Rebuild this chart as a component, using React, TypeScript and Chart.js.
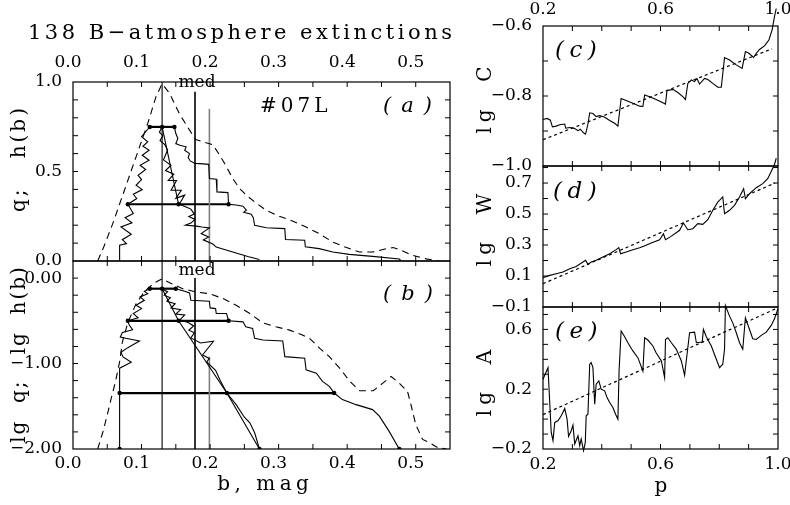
import React, { useEffect, useRef } from 'react';
import { Chart, registerables } from 'chart.js';
Chart.register(...registerables);

type P = [number, number];

const MINUS = '\u2212';
const SERIF = '"DejaVu Serif", "Liberation Serif", serif';

// ---------- reference values (b, mag) ----------
const MODE = 0.13;
const MEDIAN = 0.178;
const MEAN = 0.199;

// ---------- axis tick labels ----------
const bMagLabels = [0, 0.1, 0.2, 0.3, 0.4, 0.5];
const pLabels = [0.2, 0.6, 1.0];
const aYLabels = [0, 0.5, 1.0];
const bYLabels = [-2, -1, 0];
const cYLabels = [-1.0, -0.8, -0.6];
const dYLabels = [-0.1, 0.1, 0.3, 0.5, 0.7];
const eYLabels = [-0.2, 0.2, 0.6];

// ---------- panel (a): q, h(b) ----------
const aDensity: P[] = [[0.036, 0], [0.045, 0.08], [0.058, 0.209], [0.075, 0.395], [0.092, 0.582], [0.109, 0.768], [0.121, 0.917], [0.13, 0.99], [0.141, 0.936], [0.155, 0.824], [0.17, 0.731], [0.179, 0.679], [0.19, 0.665], [0.204, 0.65], [0.214, 0.591], [0.224, 0.526], [0.233, 0.461], [0.243, 0.405], [0.253, 0.367], [0.265, 0.33], [0.282, 0.283], [0.301, 0.25], [0.32, 0.224], [0.34, 0.19], [0.359, 0.153], [0.379, 0.106], [0.399, 0.075], [0.418, 0.05], [0.437, 0.05], [0.457, 0.069], [0.467, 0.075], [0.476, 0.064], [0.495, 0.032], [0.515, 0.012], [0.534, 0]];
const aLeft: P[] = [[0.068, 0], [0.068, 0.088], [0.078, 0.097], [0.072, 0.119], [0.085, 0.149], [0.07, 0.19], [0.086, 0.213], [0.076, 0.242], [0.088, 0.265], [0.08, 0.317], [0.093, 0.349], [0.088, 0.373], [0.101, 0.399], [0.092, 0.423], [0.1, 0.455], [0.095, 0.479], [0.106, 0.511], [0.098, 0.535], [0.111, 0.563], [0.101, 0.591], [0.111, 0.619], [0.102, 0.641], [0.109, 0.666], [0.1, 0.694], [0.106, 0.722], [0.112, 0.749]];
const aRight: P[] = [[0.148, 0.749], [0.15, 0.712], [0.153, 0.684], [0.15, 0.656], [0.156, 0.647], [0.165, 0.638], [0.163, 0.619], [0.17, 0.6], [0.168, 0.578], [0.171, 0.559], [0.178, 0.545], [0.185, 0.544], [0.198, 0.54], [0.199, 0.461], [0.209, 0.457], [0.21, 0.386], [0.226, 0.382], [0.227, 0.317], [0.238, 0.313], [0.248, 0.306], [0.253, 0.284], [0.249, 0.272], [0.26, 0.261], [0.263, 0.242], [0.265, 0.199], [0.282, 0.186], [0.309, 0.181], [0.31, 0.12], [0.338, 0.116], [0.339, 0.079], [0.359, 0.069], [0.379, 0.05], [0.403, 0.037], [0.437, 0.026], [0.476, 0.011], [0.479, 0]];
const aZig: P[] = [[0.13, 0.749], [0.126, 0.72], [0.131, 0.7], [0.127, 0.672], [0.134, 0.65], [0.138, 0.62], [0.132, 0.565], [0.143, 0.535], [0.135, 0.505], [0.147, 0.485], [0.139, 0.45], [0.151, 0.45], [0.143, 0.395], [0.158, 0.395], [0.15, 0.35], [0.163, 0.368], [0.155, 0.317], [0.165, 0.302], [0.172, 0.29], [0.177, 0.262], [0.169, 0.248], [0.178, 0.232], [0.172, 0.212], [0.164, 0.2], [0.18, 0.195], [0.188, 0.19], [0.199, 0.185], [0.187, 0.153], [0.198, 0.134], [0.19, 0.118], [0.204, 0.095], [0.209, 0.078], [0.233, 0.05], [0.255, 0.025], [0.272, 0.008]];
const aSlope: P[] = [[0.13, 0.749], [0.154, 0.317]];
const aLevelHigh: P[] = [[0.112, 0.749], [0.13, 0.749], [0.148, 0.749]];
const aLevelLow: P[] = [[0.08, 0.317], [0.154, 0.317], [0.227, 0.317]];
const aModeSpan = [0, 1.0];
const aMedianSpan = [0, 0.945];
const aMeanSpan = [0, 0.85];

// ---------- panel (b): lg q, lg h(b) ----------
const bDensity: P[] = [[0.036, -2.0], [0.044, -1.79], [0.05, -1.6], [0.056, -1.4], [0.062, -1.21], [0.068, -0.98], [0.072, -0.75], [0.08, -0.52], [0.092, -0.3], [0.105, -0.15], [0.118, -0.06], [0.13, -0.008], [0.141, -0.054], [0.16, -0.124], [0.18, -0.163], [0.199, -0.182], [0.219, -0.24], [0.238, -0.318], [0.258, -0.415], [0.277, -0.525], [0.296, -0.57], [0.316, -0.609], [0.333, -0.659], [0.345, -0.705], [0.36, -0.822], [0.374, -0.919], [0.389, -1.054], [0.404, -1.209], [0.418, -1.318], [0.438, -1.318], [0.452, -1.229], [0.464, -1.151], [0.476, -1.229], [0.488, -1.326], [0.493, -1.481], [0.5, -1.713], [0.51, -1.888], [0.52, -1.926], [0.532, -1.984], [0.545, -2.0]];
const bLeft: P[] = [[0.068, -2.0], [0.068, -1.054], [0.085, -0.984], [0.073, -0.922], [0.07, -0.868], [0.08, -0.814], [0.097, -0.736], [0.077, -0.705], [0.069, -0.69], [0.072, -0.636], [0.087, -0.605], [0.082, -0.55], [0.08, -0.5], [0.095, -0.465], [0.088, -0.415], [0.1, -0.357], [0.092, -0.318], [0.104, -0.26], [0.098, -0.221], [0.109, -0.182], [0.104, -0.155], [0.112, -0.124]];
const bRight: P[] = [[0.15, -0.124], [0.155, -0.136], [0.163, -0.155], [0.17, -0.174], [0.172, -0.26], [0.199, -0.271], [0.2, -0.349], [0.208, -0.357], [0.209, -0.415], [0.224, -0.415], [0.227, -0.5], [0.248, -0.512], [0.252, -0.57], [0.262, -0.589], [0.265, -0.705], [0.277, -0.725], [0.306, -0.736], [0.309, -0.919], [0.338, -0.938], [0.34, -1.074], [0.355, -1.112], [0.364, -1.209], [0.374, -1.267], [0.381, -1.345], [0.393, -1.422], [0.413, -1.481], [0.437, -1.539], [0.447, -1.616], [0.461, -1.791], [0.476, -2.0]];
const bZig: P[] = [[0.13, -0.13], [0.138, -0.16], [0.133, -0.2], [0.142, -0.23], [0.137, -0.27], [0.149, -0.3], [0.143, -0.35], [0.157, -0.37], [0.15, -0.42], [0.163, -0.43], [0.156, -0.49], [0.168, -0.52], [0.176, -0.56], [0.169, -0.61], [0.177, -0.64], [0.172, -0.7], [0.186, -0.76], [0.205, -0.74], [0.189, -0.9], [0.199, -0.94], [0.195, -0.98], [0.208, -1.08], [0.215, -1.2], [0.2245, -1.345], [0.238, -1.481], [0.25, -1.628], [0.258, -1.694], [0.265, -1.81], [0.272, -2.0]];
const bSlope: P[] = [[0.13, -0.124], [0.154, -0.5], [0.2245, -1.345], [0.272, -2.0]];
const bLevelHigh: P[] = [[0.112, -0.124], [0.13, -0.124], [0.15, -0.124]];
const bLevelMid: P[] = [[0.08, -0.5], [0.154, -0.5], [0.227, -0.5]];
const bLevelLow: P[] = [[0.068, -1.345], [0.2245, -1.345], [0.381, -1.345]];
const bEnds: P[] = [[0.068, -2.0], [0.272, -2.0], [0.476, -2.0]];
const bModeSpan = [-2.0, 0.2];
const bMedianSpan = [-2.0, 0.0];
const bMeanSpan = [-2.0, -0.92];

// ---------- panel (c): lg C vs p ----------
const cCurve: P[] = [[0.2, -0.867], [0.214, -0.864], [0.225, -0.869], [0.232, -0.888], [0.245, -0.886], [0.257, -0.882], [0.274, -0.88], [0.277, -0.892], [0.291, -0.89], [0.308, -0.893], [0.319, -0.899], [0.327, -0.895], [0.338, -0.905], [0.345, -0.909], [0.353, -0.88], [0.359, -0.848], [0.37, -0.85], [0.381, -0.859], [0.393, -0.856], [0.41, -0.861], [0.427, -0.87], [0.444, -0.878], [0.455, -0.886], [0.466, -0.807], [0.483, -0.813], [0.506, -0.821], [0.529, -0.829], [0.54, -0.83], [0.546, -0.797], [0.563, -0.802], [0.585, -0.81], [0.608, -0.819], [0.617, -0.823], [0.622, -0.785], [0.642, -0.781], [0.659, -0.79], [0.676, -0.802], [0.685, -0.81], [0.693, -0.764], [0.705, -0.754], [0.716, -0.759], [0.724, -0.75], [0.733, -0.766], [0.75, -0.75], [0.761, -0.753], [0.778, -0.764], [0.795, -0.775], [0.807, -0.775], [0.818, -0.69], [0.835, -0.697], [0.858, -0.711], [0.878, -0.721], [0.889, -0.673], [0.901, -0.678], [0.917, -0.69], [0.926, -0.678], [0.937, -0.667], [0.954, -0.657], [0.969, -0.64], [0.98, -0.611], [0.988, -0.573], [0.994, -0.55]];
const cFit: P[] = [[0.2, -0.925], [0.98, -0.665]];

// ---------- panel (d): lg W vs p ----------
const dCurve: P[] = [[0.2, 0.089], [0.223, 0.104], [0.245, 0.115], [0.268, 0.126], [0.291, 0.147], [0.313, 0.162], [0.336, 0.19], [0.345, 0.201], [0.353, 0.175], [0.364, 0.19], [0.381, 0.201], [0.404, 0.223], [0.427, 0.244], [0.449, 0.27], [0.458, 0.283], [0.464, 0.244], [0.483, 0.255], [0.506, 0.27], [0.529, 0.283], [0.551, 0.298], [0.568, 0.313], [0.597, 0.334], [0.61, 0.373], [0.617, 0.334], [0.636, 0.356], [0.665, 0.395], [0.678, 0.442], [0.693, 0.399], [0.71, 0.405], [0.727, 0.438], [0.744, 0.433], [0.761, 0.463], [0.778, 0.524], [0.795, 0.577], [0.812, 0.61], [0.818, 0.502], [0.835, 0.524], [0.852, 0.556], [0.869, 0.61], [0.883, 0.663], [0.889, 0.599], [0.903, 0.631], [0.926, 0.67], [0.948, 0.696], [0.965, 0.728], [0.976, 0.771], [0.988, 0.82], [0.994, 0.86]];
const dFit: P[] = [[0.2, 0.05], [0.99, 0.7]];

// ---------- panel (e): lg A vs p ----------
const eCurve: P[] = [[0.2, 0.267], [0.217, 0.344], [0.228, -0.089], [0.234, -0.144], [0.24, -0.022], [0.251, -0.011], [0.262, 0.022], [0.274, 0.071], [0.282, 0.0], [0.287, -0.116], [0.296, -0.078], [0.302, -0.04], [0.308, -0.167], [0.319, -0.111], [0.325, -0.178], [0.33, -0.133], [0.338, -0.211], [0.344, -0.156], [0.347, 0.022], [0.353, 0.033], [0.359, 0.367], [0.364, 0.378], [0.37, 0.344], [0.376, 0.1], [0.381, 0.233], [0.39, 0.256], [0.398, 0.2], [0.41, 0.189], [0.418, 0.144], [0.427, 0.111], [0.438, 0.078], [0.447, 0.033], [0.455, 0.0], [0.459, 0.322], [0.466, 0.589], [0.478, 0.551], [0.489, 0.511], [0.506, 0.456], [0.523, 0.411], [0.54, 0.322], [0.546, 0.544], [0.557, 0.529], [0.574, 0.489], [0.585, 0.444], [0.603, 0.389], [0.614, 0.278], [0.617, 0.533], [0.625, 0.544], [0.637, 0.511], [0.654, 0.467], [0.671, 0.389], [0.682, 0.293], [0.699, 0.578], [0.716, 0.582], [0.722, 0.511], [0.742, 0.516], [0.746, 0.6], [0.756, 0.551], [0.773, 0.489], [0.79, 0.4], [0.801, 0.344], [0.812, 0.367], [0.818, 0.467], [0.821, 0.76], [0.835, 0.689], [0.846, 0.644], [0.858, 0.578], [0.869, 0.511], [0.88, 0.467], [0.889, 0.678], [0.901, 0.611], [0.914, 0.538], [0.926, 0.533], [0.943, 0.56], [0.96, 0.582], [0.977, 0.627], [0.988, 0.671], [1.0, 0.738]];
const eFit: P[] = [[0.2, 0.03], [1.0, 0.745]];

// ---------- helpers ----------
function range(a: number, b: number, s: number): number[] {
  const out: number[] = [];
  const n = Math.round((b - a) / s);
  for (let i = 0; i <= n; i++) out.push(Math.round((a + i * s) * 1e6) / 1e6);
  return out;
}
const fmt = (v: number, d: number) => {
  const s = Math.abs(v).toFixed(d);
  return v < -1e-9 ? MINUS + s : s;
};

interface AxisCfg { min: number; max: number; ticks: number[]; labels: number[]; digits: number; offset?: number; }
interface Area { l: number; t: number; r: number; b: number; }
interface Panel {
  area: Area; x: AxisCfg; y: AxisCfg;
  showBottom: boolean; bottomPad: number;
  showTop: boolean; topPad: number;
  datasets: any[];
  decorate?: (ctx: CanvasRenderingContext2D, chart: any) => void;
}

const W = 790, H = 505;
const tickFont = { family: SERIF, size: 17, lineHeight: 1 };

function labelFor(ax: AxisCfg, v: number) {
  return ax.labels.some((l) => Math.abs(l - v) < 1e-6) ? fmt(v, ax.digits) : '';
}
function zeroPad(s: any) {
  s.paddingLeft = 0; s.paddingRight = 0; s.paddingTop = 0; s.paddingBottom = 0;
}
function xScale(ax: AxisCfg, position: 'top' | 'bottom', size: number, show: boolean, pad: number) {
  return {
    type: 'linear', position, min: ax.min, max: ax.max, display: true,
    grid: { display: false, drawTicks: false }, border: { display: false },
    ticks: {
      display: show, autoSkip: false, maxRotation: 0, minRotation: 0, padding: pad,
      labelOffset: ax.offset || 0, color: '#000', font: tickFont,
      callback: (v: number) => labelFor(ax, v),
    },
    afterBuildTicks: (s: any) => { s.ticks = ax.ticks.map((value) => ({ value })); },
    afterFit: (s: any) => { s.height = size; zeroPad(s); },
  };
}
function yScale(ax: AxisCfg, size: number) {
  return {
    type: 'linear', position: 'left', min: ax.min, max: ax.max, display: true,
    grid: { display: false, drawTicks: false }, border: { display: false },
    ticks: {
      autoSkip: false, padding: 11, color: '#000', font: tickFont,
      callback: (v: number) => labelFor(ax, v),
    },
    afterBuildTicks: (s: any) => { s.ticks = ax.ticks.map((value) => ({ value })); },
    afterFit: (s: any) => { s.width = size; zeroPad(s); },
  };
}

const line = (pts: P[], extra: any = {}) => ({
  data: pts.map(([x, y]) => ({ x, y })),
  xAxisID: 'x', yAxisID: 'y',
  showLine: true, borderColor: '#000', borderWidth: 1.1, pointRadius: 0,
  pointHoverRadius: 0, fill: false, tension: 0, ...extra,
});
const vline = (x: number, span: number[], extra: any = {}) =>
  line([[x, span[0]], [x, span[1]]], extra);
const level = (pts: P[]) =>
  line(pts, { borderWidth: 2.2, pointRadius: 2.2, pointBackgroundColor: '#000', pointBorderWidth: 0 });
const DENSITY_DASH = [7, 5];
const FIT_DASH = [3, 3];

function text(ctx: CanvasRenderingContext2D, s: string, x: number, y: number,
  o: { size?: number; italic?: boolean; ls?: number; align?: CanvasTextAlign; rot?: number } = {}) {
  ctx.save();
  ctx.font = `${o.italic ? 'italic ' : ''}${o.size || 20}px ${SERIF}`;
  (ctx as any).letterSpacing = `${o.ls || 0}px`;
  ctx.textAlign = o.align || 'left';
  ctx.textBaseline = 'alphabetic';
  ctx.fillStyle = '#000';
  ctx.translate(x, y);
  if (o.rot) ctx.rotate(o.rot);
  ctx.fillText(s, o.align === 'center' ? (o.ls || 0) / 2 : 0, 0);
  ctx.restore();
}
const UP = -Math.PI / 2;

// ---------- axes ----------
const leftX: AxisCfg = { min: 0, max: 0.55, ticks: range(0, 0.55, 0.05), labels: bMagLabels, digits: 1, offset: -5 };
const rightX: AxisCfg = { min: 0.2, max: 1.0, ticks: range(0.2, 1.0, 0.1), labels: pLabels, digits: 1 };

const PANELS: Panel[] = [
  {
    area: { l: 73, t: 82, r: 450, b: 261 }, x: leftX,
    y: { min: 0, max: 1, ticks: range(0, 1, 0.1), labels: aYLabels, digits: 1 },
    showBottom: false, bottomPad: 6, showTop: true, topPad: 10.5,
    datasets: [
      line(aDensity, { borderDash: DENSITY_DASH }),
      line(aLeft), line(aRight), line(aZig), line(aSlope),
      vline(MODE, aModeSpan),
      vline(MEDIAN, aMedianSpan, { borderWidth: 1.6 }),
      vline(MEAN, aMeanSpan, { borderWidth: 1.6, borderColor: '#808080' }),
      level(aLevelHigh), level(aLevelLow),
    ],
    decorate: (ctx, chart) => {
      text(ctx, '138 B\u2212atmosphere extinctions', 28, 39, { size: 21, ls: 3.5 });
      text(ctx, '#07L', 260, 112, { size: 20, ls: 4 });
      text(ctx, '(a)', 383, 112, { size: 21, italic: true, ls: 10 });
      text(ctx, 'med', chart.scales.x.getPixelForValue(MEDIAN) + 2, 87, { size: 17, align: 'center' });
      text(ctx, 'q;   h(b)', 25, 160, { size: 20, ls: 3, align: 'center', rot: UP });
    },
  },
  {
    area: { l: 73, t: 261, r: 450, b: 449 }, x: leftX,
    y: { min: -2, max: 0.2, ticks: range(-2, 0.2, 0.2), labels: bYLabels, digits: 2 },
    showBottom: true, bottomPad: 6, showTop: false, topPad: 0,
    datasets: [
      line(bDensity, { borderDash: DENSITY_DASH }),
      line(bLeft), line(bRight), line(bZig), line(bSlope),
      vline(MODE, bModeSpan),
      vline(MEDIAN, bMedianSpan, { borderWidth: 1.6 }),
      vline(MEAN, bMeanSpan, { borderWidth: 1.6, borderColor: '#808080' }),
      level(bLevelHigh), level(bLevelMid), level(bLevelLow),
      line(bEnds, { showLine: false, pointRadius: 2.2, pointBackgroundColor: '#000', pointBorderWidth: 0 }),
    ],
    decorate: (ctx, chart) => {
      text(ctx, '(b)', 383, 300, { size: 21, italic: true, ls: 10 });
      text(ctx, 'med', chart.scales.x.getPixelForValue(MEDIAN) + 2, 275, { size: 17, align: 'center' });
      text(ctx, 'lg  q;   lg  h(b)', 25, 355, { size: 20, ls: 2, align: 'center', rot: UP });
      text(ctx, 'b, mag', 263, 490, { size: 20, ls: 4.5, align: 'center' });
    },
  },
  {
    area: { l: 543, t: 26, r: 778, b: 166 }, x: rightX,
    y: { min: -1.0, max: -0.6, ticks: range(-1.0, -0.6, 0.1), labels: cYLabels, digits: 1 },
    showBottom: false, bottomPad: 7, showTop: true, topPad: 7.5,
    datasets: [line(cCurve, { clip: false }), line(cFit, { borderDash: FIT_DASH, borderWidth: 1.2 })],
    decorate: (ctx) => {
      text(ctx, '(c)', 555, 57, { size: 23, italic: true, ls: 5.5 });
      text(ctx, 'lg  C', 491, 100, { size: 20, ls: 5, align: 'center', rot: UP });
    },
  },
  {
    area: { l: 543, t: 166, r: 778, b: 307 }, x: rightX,
    y: { min: -0.1, max: 0.81, ticks: range(-0.1, 0.8, 0.1), labels: dYLabels, digits: 1 },
    showBottom: false, bottomPad: 7, showTop: false, topPad: 0,
    datasets: [line(dCurve, { clip: false }), line(dFit, { borderDash: FIT_DASH, borderWidth: 1.2 })],
    decorate: (ctx) => {
      text(ctx, '(d)', 553, 198, { size: 23, italic: true, ls: 5.5 });
      text(ctx, 'lg  W', 491, 230, { size: 20, ls: 5, align: 'center', rot: UP });
    },
  },
  {
    area: { l: 543, t: 307, r: 778, b: 449 }, x: rightX,
    y: { min: -0.2, max: 0.75, ticks: range(-0.2, 0.7, 0.1), labels: eYLabels, digits: 1 },
    showBottom: true, bottomPad: 7, showTop: false, topPad: 0,
    datasets: [line(eCurve, { clip: false }), line(eFit, { borderDash: FIT_DASH, borderWidth: 1.2 })],
    decorate: (ctx) => {
      text(ctx, '(e)', 555, 338, { size: 23, italic: true, ls: 5.5 });
      text(ctx, 'lg  A', 491, 383, { size: 20, ls: 5, align: 'center', rot: UP });
      text(ctx, 'p', 661, 492, { size: 20, align: 'center' });
    },
  },
];

function framePlugin(p: Panel) {
  return {
    id: 'frameTicks',
    afterDraw(chart: any) {
      const ctx: CanvasRenderingContext2D = chart.ctx;
      const a = chart.chartArea;
      const TL = 5;
      ctx.save();
      ctx.strokeStyle = '#000';
      ctx.lineWidth = 1.2;
      ctx.strokeRect(a.left, a.top, a.right - a.left, a.bottom - a.top);
      ctx.lineWidth = 1;
      ctx.beginPath();
      const xs = chart.scales.x;
      for (const t of xs.ticks) {
        const px = xs.getPixelForValue(t.value);
        if (px <= a.left + 1 || px >= a.right - 1) continue;
        ctx.moveTo(px, a.top); ctx.lineTo(px, a.top + TL);
        ctx.moveTo(px, a.bottom); ctx.lineTo(px, a.bottom - TL);
      }
      const ys = chart.scales.y;
      for (const t of ys.ticks) {
        const py = ys.getPixelForValue(t.value);
        if (py <= a.top + 1 || py >= a.bottom - 1) continue;
        ctx.moveTo(a.left, py); ctx.lineTo(a.left + TL, py);
        ctx.moveTo(a.right, py); ctx.lineTo(a.right - TL, py);
      }
      ctx.stroke();
      ctx.restore();
      if (p.decorate) p.decorate(ctx, chart);
    },
  };
}

function buildChart(canvas: HTMLCanvasElement, p: Panel) {
  const scales: any = {
    x: xScale(p.x, 'bottom', H - p.area.b, p.showBottom, p.bottomPad),
    y: yScale(p.y, p.area.l),
  };
  if (p.showTop) scales.xt = xScale(p.x, 'top', p.area.t, true, p.topPad);
  return new Chart(canvas, {
    type: 'scatter',
    data: { datasets: p.datasets },
    options: {
      animation: false, responsive: false, devicePixelRatio: 1, events: [],
      layout: { autoPadding: false, padding: { left: 0, right: W - p.area.r, top: p.showTop ? 0 : p.area.t, bottom: 0 } },
      plugins: { legend: { display: false }, tooltip: { enabled: false }, title: { display: false } },
      scales,
    } as any,
    plugins: [framePlugin(p)],
  });
}

export default function App() {
  const boxRef = useRef<HTMLDivElement>(null);
  useEffect(() => {
    const canvases = Array.from(boxRef.current!.querySelectorAll('canvas')) as HTMLCanvasElement[];
    const charts = PANELS.map((p, i) => buildChart(canvases[i], p));
    return () => charts.forEach((c) => c.destroy());
  }, []);
  return (
    <div ref={boxRef} style={{ position: 'absolute', left: 0, top: 0, width: W, height: H, background: '#fff' }}>
      {PANELS.map((_, i) => (
        <canvas key={i} width={W} height={H} style={{ position: 'absolute', left: 0, top: 0 }} />
      ))}
    </div>
  );
}
